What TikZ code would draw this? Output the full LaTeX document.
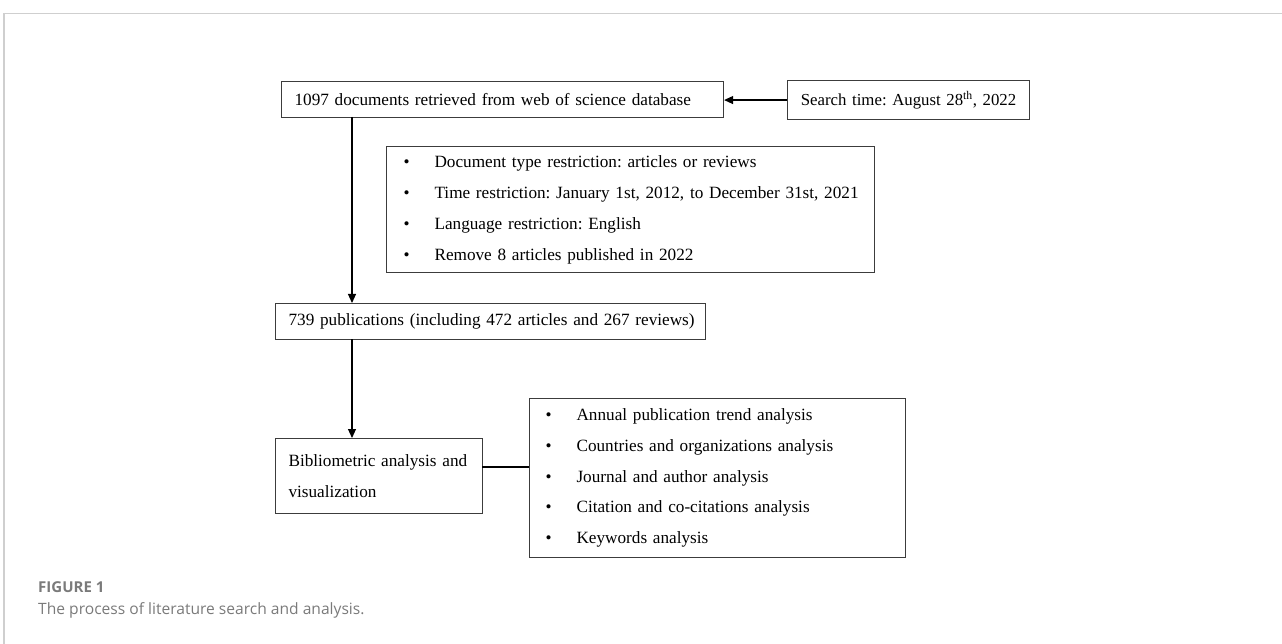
\documentclass[tikz,border=0pt]{standalone}
\usepackage{fontspec}
\setmainfont{Liberation Serif}
\newfontfamily\capfont{Open Sans}
\usetikzlibrary{arrows.meta}
\definecolor{boxgray}{HTML}{3C3C3C}
\definecolor{framegray}{HTML}{CFCFCF}
\definecolor{capgray}{HTML}{7A7A7A}
\newcommand{\bul}{\makebox[31pt][l]{\textbullet}}
\frenchspacing
\begin{document}
\begin{tikzpicture}[x=1pt,y=-1pt,
  box/.style={draw=boxgray,line width=1.1pt,anchor=north west,inner xsep=13pt,inner ysep=0pt,
    align=left,font=\fontsize{17.2}{31}\selectfont\frenchspacing},
  listbox/.style={box,inner xsep=17pt},
  conn/.style={line width=1.1pt,draw=black},
  arr/.style={conn,-{Triangle[length=9pt,width=8pt]}},
  captxt/.style={anchor=base west,inner sep=0pt,text=capgray}]
\useasboundingbox (0,0) rectangle (1282,644);
\draw[framegray,line width=1.2pt] (1282,13.5) -- (4,13.5) -- (4,644);
\node[box,minimum width=442pt,minimum height=36pt,text width=416pt] (b1) at (281,81)
  {\mbox{1097 documents retrieved from web of science database}};
\node[box,minimum width=242pt,minimum height=39pt,text width=216pt,align=center,
  font=\fontsize{16.8}{31}\selectfont] (st) at (787,80)
  {\mbox{Search time: August 28\textsuperscript{th}, 2022}};
\node[listbox,minimum width=488pt,minimum height=126pt,text width=454pt] (r) at (386,146)
  {\mbox{\bul Document type restriction: articles or reviews}\\
   \mbox{\bul Time restriction: January 1st, 2012, to December 31st, 2021}\\
   \mbox{\bul Language restriction: English}\\
   \mbox{\bul Remove 8 articles published in 2022}};
\node[box,minimum width=430pt,minimum height=36pt,text width=404pt] (b2) at (275,303)
  {\mbox{739 publications (including 472 articles and 267 reviews)}};
\node[box,minimum width=207pt,minimum height=75pt,text width=181pt] (b3) at (275,438)
  {\mbox{Bibliometric analysis and}\\\mbox{visualization}};
\node[listbox,minimum width=376pt,minimum height=159pt,text width=344pt,inner xsep=16pt,
  font=\fontsize{17.2}{30.7}\selectfont] (b4) at (529,398)
  {\mbox{\bul Annual publication trend analysis}\\
   \mbox{\bul Countries and organizations analysis}\\
   \mbox{\bul Journal and author analysis}\\
   \mbox{\bul Citation and co-citations analysis}\\
   \mbox{\bul Keywords analysis}};
\draw[arr] (st.west) -- (st.west -| b1.east);
\coordinate (d1) at (352,117);
\draw[arr] (d1) -- (d1 |- b2.north);
\coordinate (d2) at (352,339);
\draw[arr] (d2) -- (d2 |- b3.north);
\coordinate (h) at (482,467);
\draw[conn] (h) -- (h -| b4.west);
\node[captxt,font=\capfont\bfseries\fontsize{15}{17}\selectfont] (fig) at (38,592.7) {FIGURE 1};
\node[captxt,font=\capfont\fontsize{15.6}{18}\selectfont] (cap) at (38,614.3) {The process of literature search and analysis.};
\end{tikzpicture}
\end{document}
